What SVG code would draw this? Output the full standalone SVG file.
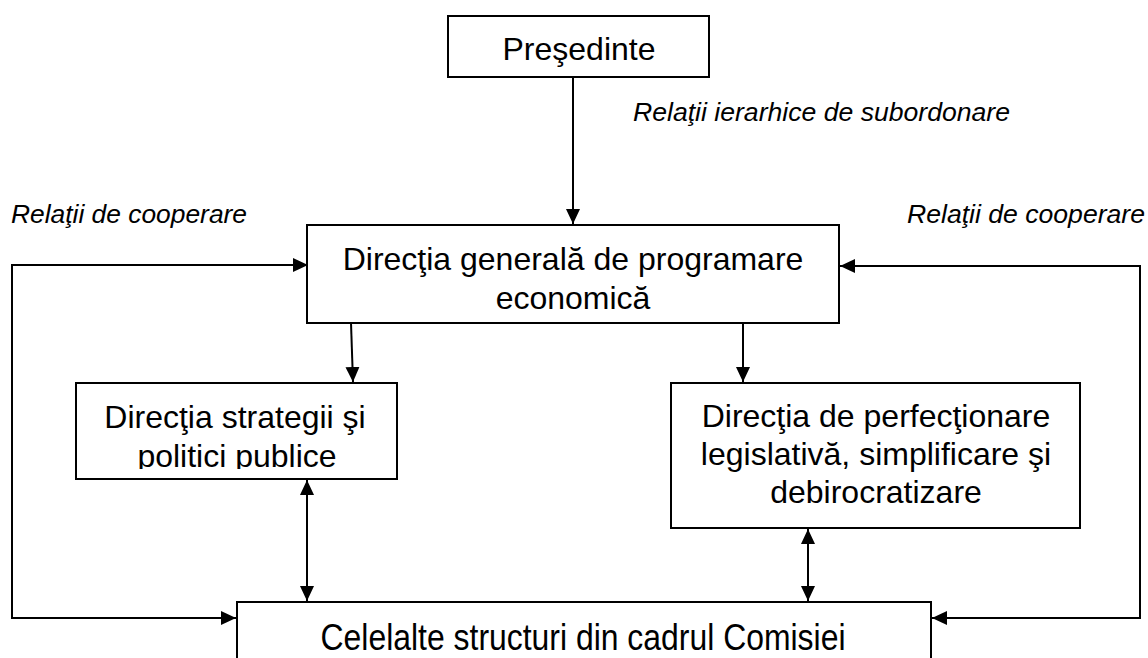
<svg xmlns="http://www.w3.org/2000/svg" width="1148" height="658" viewBox="0 0 1148 658">
<defs>
<style>
.box{fill:#fff;stroke:#000;stroke-width:2}
.t{font-family:"Liberation Sans",Arial,sans-serif;font-size:32px;fill:#000;text-anchor:middle}
.lbl{font-family:"Liberation Sans",Arial,sans-serif;font-size:26px;font-style:italic;fill:#000}
.ln{fill:none;stroke:#000;stroke-width:2}
</style>
<marker id="ah" markerUnits="userSpaceOnUse" markerWidth="16" markerHeight="14" refX="15" refY="7" orient="auto-start-reverse" viewBox="0 0 16 14">
<path d="M0,0 L15,7 L0,14 z" fill="#000"/>
</marker>
<clipPath id="clipL"><rect x="70" y="380" width="340" height="89"/></clipPath>
</defs>
<rect width="1148" height="658" fill="#fff"/>
<g id="connectors">
<path class="ln" d="M573,77 V224" marker-end="url(#ah)"/>
<path class="ln" d="M351,323 L353,382" marker-end="url(#ah)"/>
<path class="ln" d="M743,323 V382" marker-end="url(#ah)"/>
<path class="ln" d="M308,265 H12 V618 H236" marker-start="url(#ah)" marker-end="url(#ah)"/>
<path class="ln" d="M840,266 H1140 V618 H932" marker-start="url(#ah)" marker-end="url(#ah)"/>
<path class="ln" d="M307,480 V601" marker-start="url(#ah)" marker-end="url(#ah)"/>
<path class="ln" d="M808,529 V601" marker-start="url(#ah)" marker-end="url(#ah)"/>
</g>
<g id="labels">
<text class="lbl" x="633" y="121" textLength="377" lengthAdjust="spacingAndGlyphs">Relaţii ierarhice de subordonare</text>
<text class="lbl" x="11" y="223" textLength="236" lengthAdjust="spacingAndGlyphs">Relaţii de cooperare</text>
<text class="lbl" x="907" y="223" textLength="238" lengthAdjust="spacingAndGlyphs">Relaţii de cooperare</text>
</g>
<g id="presedinte">
<rect class="box" x="448" y="16" width="261" height="61"/>
<text class="t" x="579" y="60">Preşedinte</text>
</g>
<g id="dgpe">
<rect class="box" x="307" y="225" width="532" height="98"/>
<text class="t" x="573" y="270">Direcţia generală de programare</text>
<text class="t" x="573" y="309">economică</text>
</g>
<g id="strategii">
<rect class="box" x="76" y="383" width="321" height="96"/>
<g clip-path="url(#clipL)">
<text class="t" x="235" y="428">Direcţia strategii şi</text>
<text class="t" x="237" y="467">politici publice</text>
</g>
</g>
<g id="perfectionare">
<rect class="box" x="671" y="383" width="409" height="145"/>
<text class="t" x="876" y="427">Direcţia de perfecţionare</text>
<text class="t" x="876" y="465">legislativă, simplificare şi</text>
<text class="t" x="876" y="503">debirocratizare</text>
</g>
<g id="celelalte">
<rect class="box" x="237" y="602" width="694" height="80"/>
<text class="t" transform="translate(583,650) scale(1,1.15)" x="0" y="0" textLength="525" lengthAdjust="spacingAndGlyphs">Celelalte structuri din cadrul Comisiei</text>
</g>
</svg>
